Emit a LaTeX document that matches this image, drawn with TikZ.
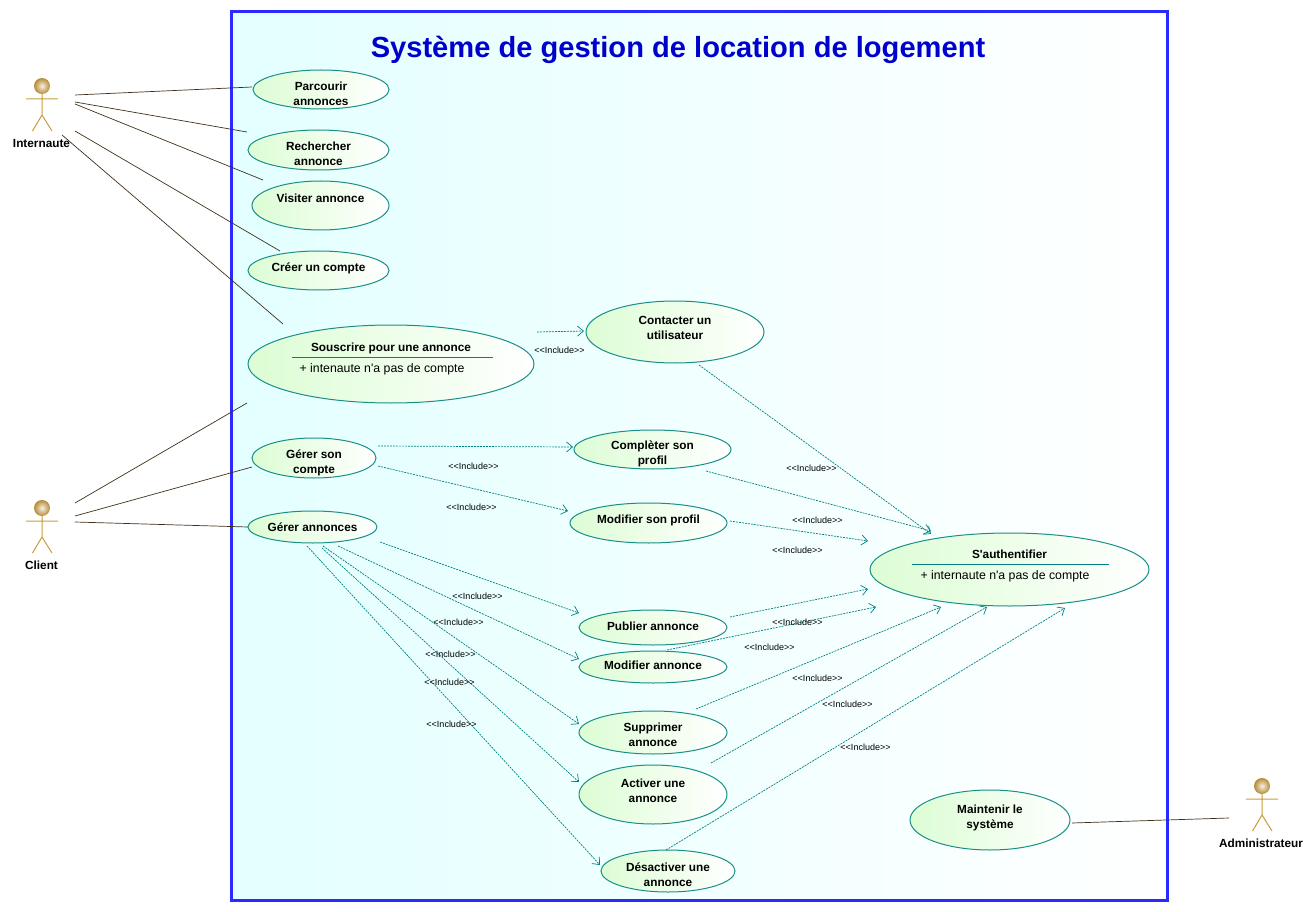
\documentclass[tikz,border=0pt]{standalone}
\usepackage{fontspec}
\setmainfont{Liberation Sans}[Ligatures=TeXOff]
\usetikzlibrary{shapes,arrows.meta}
\definecolor{framebl}{HTML}{2A2AFF}
\definecolor{titlebl}{HTML}{0000CC}
\definecolor{skyfill}{HTML}{E3FFFF}
\definecolor{tealln}{HTML}{1A8F8A}
\definecolor{depln}{HTML}{008080}
\definecolor{ucgreen}{HTML}{DCFDD4}
\definecolor{goldln}{HTML}{C89B3C}
\definecolor{assocln}{HTML}{40301A}

\begin{document}
\begin{tikzpicture}[x=1pt,y=-1pt]
\tikzstyle{every node}=[inner sep=0pt,outer sep=0pt]
\tikzstyle{frame}=[rectangle,draw=framebl,line width=3pt,left color=skyfill,right color=white]
\tikzstyle{usecase}=[ellipse,inner ysep=-30pt,draw=tealln,line width=1pt,left color=ucgreen,right color=white,align=center,font=\fontsize{11.8}{15}\selectfont\bfseries]
\tikzstyle{lastline}=[text height={max(2*#1,0)*1pt},text depth={max(-2*#1,0)*1pt}]
\tikzstyle{attrib}=[font=\fontsize{12.3}{15}\selectfont]
\tikzstyle{sep}=[draw=depln,line width=.8pt]
\tikzstyle{actorname}=[font=\fontsize{11.8}{15}\selectfont\bfseries]
\tikzstyle{incl}=[font=\fontsize{9}{11}\selectfont]
\tikzstyle{assoc}=[draw=assocln,line width=.7pt]
\tikzstyle{dep}=[draw=depln,line width=.7pt,dash pattern=on 2pt off 1pt,-{Straight Barb[length=6pt,width=10pt]}]
\tikzset{stickman/.pic={
  \draw[goldln,line width=1pt] (0,8) -- (0,29) (-16,13) -- (16,13) (-9.5,45) -- (0,29) -- (10,45);
  \shade[inner color=white!85!goldln,outer color=goldln!90!black] (0,0) circle (8);
}}
\useasboundingbox (0,0) rectangle (1315,912);

\node[frame,minimum width=936pt,minimum height=889pt] (systeme) at (699.5,456) {};
\node[font=\fontsize{29.1}{34}\selectfont\bfseries,text=titlebl] (titre) at (678,50) {Système de gestion de location de logement};

\pic at (42,86) {stickman};
\pic at (42,508) {stickman};
\pic at (1262,786) {stickman};
\node[actorname] (internaute) at (41.5,143.5) {Internaute};
\node[actorname] (client) at (41.5,565.5) {Client};
\node[actorname] (admin) at (1261,843.5) {Administrateur};

\node[usecase,minimum width=136pt,minimum height=39pt,lastline=15.75] (parcourir) at (321,89.5) {Parcourir\\annonces};
\node[usecase,minimum width=141pt,minimum height=40pt,lastline=15.5] (rechercher) at (318.5,150) {Rechercher\\annonce};
\node[usecase,minimum width=137pt,minimum height=49pt,lastline=-3.25] (visiter) at (320.5,205.5) {Visiter annonce};
\node[usecase,minimum width=141pt,minimum height=39pt,lastline=.75] (creer) at (318.5,270.5) {Créer un compte};
\node[usecase,minimum width=286pt,minimum height=78pt,lastline=-12.5] (souscrire) at (391,364) {Souscrire pour une annonce};
\node[usecase,minimum width=178pt,minimum height=62pt,lastline=7.5] (contacter) at (675,332) {Contacter un\\utilisateur};
\node[usecase,minimum width=157pt,minimum height=39pt,lastline=15.25] (completer) at (652.5,449.5) {Complèter son\\profil};
\node[usecase,minimum width=124pt,minimum height=40pt,lastline=15.5] (gerercompte) at (314,458) {Gérer son\\compte};
\node[usecase,minimum width=157pt,minimum height=40pt,lastline=0] (modifprofil) at (648.5,523) {Modifier son profil};
\node[usecase,minimum width=129pt,minimum height=32pt,lastline=4] (gererannonces) at (312.5,527) {Gérer annonces};
\node[usecase,minimum width=279pt,minimum height=73pt,lastline=-11] (auth) at (1009.5,569.5) {S'authentifier};
\node[usecase,minimum width=148pt,minimum height=35pt,lastline=3.25] (publier) at (653,627.5) {Publier annonce};
\node[usecase,minimum width=148pt,minimum height=32pt,lastline=2] (modifannonce) at (653,667) {Modifier annonce};
\node[usecase,minimum width=148pt,minimum height=43pt,lastline=13.75] (supprimer) at (653,732.5) {Supprimer\\annonce};
\node[usecase,minimum width=148pt,minimum height=59pt,lastline=7.75] (activer) at (653,794.5) {Activer une\\annonce};
\node[usecase,minimum width=134pt,minimum height=42pt,lastline=15.5] (desactiver) at (668,871) {Désactiver une\\annonce};
\node[usecase,minimum width=160pt,minimum height=60pt,lastline=8] (maintenir) at (990,820) {Maintenir le\\système};

\node[attrib] (souscrireattr) at (382,369) {+ intenaute n'a pas de compte};
\node[attrib] (authattr) at (1005,576) {+ internaute n'a pas de compte};
\draw[sep] ([shift={(-99,-7)}]souscrire.center) -- ([shift={(102,-7)}]souscrire.center);
\draw[sep] ([shift={(-98,-5)}]auth.center) -- ([shift={(99,-5)}]auth.center);

\draw[assoc] ([shift={(33.5,-48.5)}]internaute.center) -- ([shift={(-69,-2.5)}]parcourir.center);
\draw[assoc] ([shift={(33.5,-41.5)}]internaute.center) -- ([shift={(-71.5,-18)}]rechercher.center);
\draw[assoc] ([shift={(33.5,-39.5)}]internaute.center) -- ([shift={(-57.5,-25.5)}]visiter.center);
\draw[assoc] ([shift={(33.5,-12.5)}]internaute.center) -- ([shift={(-38.5,-19.5)}]creer.center);
\draw[assoc] ([shift={(20.5,-8.5)}]internaute.center) -- ([shift={(-108,-40)}]souscrire.center);
\draw[assoc] ([shift={(33.5,-62.5)}]client.center) -- ([shift={(-144,39)}]souscrire.center);
\draw[assoc] ([shift={(33.5,-49.5)}]client.center) -- ([shift={(-62,9)}]gerercompte.center);
\draw[assoc] ([shift={(33.5,-43.5)}]client.center) -- (gererannonces.west);
\draw[assoc] ([shift={(82,3)}]maintenir.center) -- ([shift={(-32,-25.5)}]admin.center);

\draw[dep] ([shift={(146,-32)}]souscrire.center) -- ([shift={(-91,-1)}]contacter.center);
\draw[dep] ([shift={(24,33)}]contacter.center) -- ([shift={(-78.5,-35.5)}]auth.center);
\draw[dep] ([shift={(64,-12)}]gerercompte.center) -- ([shift={(-79.5,-2.5)}]completer.center);
\draw[dep] ([shift={(64,8)}]gerercompte.center) -- ([shift={(-80.5,-12)}]modifprofil.center);
\draw[dep] ([shift={(53.5,21.5)}]completer.center) -- ([shift={(-78.5,-38.5)}]auth.center);
\draw[dep] ([shift={(81.5,-2)}]modifprofil.center) -- ([shift={(-141.5,-28.5)}]auth.center);
\draw[dep] ([shift={(67.5,15)}]gererannonces.center) -- ([shift={(-74,-14.5)}]publier.center);
\draw[dep] ([shift={(25.5,19)}]gererannonces.center) -- ([shift={(-74,-8)}]modifannonce.center);
\draw[dep] ([shift={(10.5,19)}]gererannonces.center) -- ([shift={(-74,-8.5)}]supprimer.center);
\draw[dep] ([shift={(9.5,21)}]gererannonces.center) -- ([shift={(-74,-12.5)}]activer.center);
\draw[dep] ([shift={(-5.5,19)}]gererannonces.center) -- ([shift={(-68,-6)}]desactiver.center);
\draw[dep] ([shift={(77,-10.5)}]publier.center) -- ([shift={(-141.5,19.5)}]auth.center);
\draw[dep] ([shift={(14,-17)}]modifannonce.center) -- ([shift={(-133.5,37.5)}]auth.center);
\draw[dep] ([shift={(43,-23.5)}]supprimer.center) -- ([shift={(-68.5,37.5)}]auth.center);
\draw[dep] ([shift={(58,-31.5)}]activer.center) -- ([shift={(-22.5,37.5)}]auth.center);
\draw[dep] ([shift={(-2,-21)}]desactiver.center) -- ([shift={(55.5,38.5)}]auth.center);

\node[incl] (i1) at (559.5,350) {<<Include>>};
\node[incl] (i2) at (811.5,468) {<<Include>>};
\node[incl] (i3) at (473.5,466) {<<Include>>};
\node[incl] (i4) at (471.5,507) {<<Include>>};
\node[incl] (i5) at (817.5,520) {<<Include>>};
\node[incl] (i6) at (797.5,550) {<<Include>>};
\node[incl] (i7) at (477.5,596) {<<Include>>};
\node[incl] (i8) at (458.5,622) {<<Include>>};
\node[incl] (i9) at (450.5,654) {<<Include>>};
\node[incl] (i10) at (449.5,682) {<<Include>>};
\node[incl] (i11) at (451.5,724) {<<Include>>};
\node[incl] (i12) at (797.5,622) {<<Include>>};
\node[incl] (i13) at (769.5,647) {<<Include>>};
\node[incl] (i14) at (817.5,678) {<<Include>>};
\node[incl] (i15) at (847.5,704) {<<Include>>};
\node[incl] (i16) at (865.5,747) {<<Include>>};
\end{tikzpicture}
\end{document}
